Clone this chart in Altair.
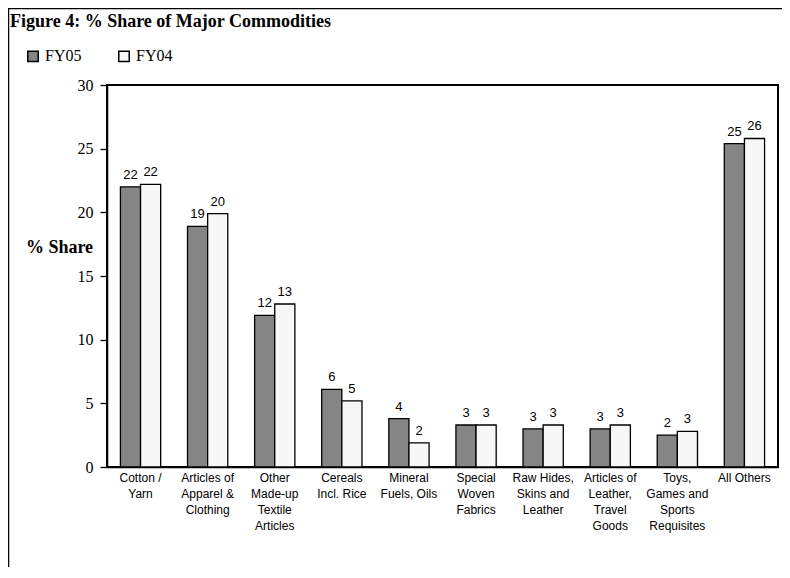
import altair as alt
import pandas as pd

categories = [
    "Cotton /|Yarn",
    "Articles of|Apparel &|Clothing",
    "Other|Made-up|Textile|Articles",
    "Cereals|Incl. Rice",
    "Mineral|Fuels, Oils",
    "Special|Woven|Fabrics",
    "Raw Hides,|Skins and|Leather",
    "Articles of|Leather,|Travel|Goods",
    "Toys,|Games and|Sports|Requisites",
    "All Others",
]
fy05 = [22.0, 18.9, 11.9, 6.1, 3.8, 3.3, 3.0, 3.0, 2.5, 25.4]
fy04 = [22.2, 19.9, 12.8, 5.2, 1.9, 3.3, 3.3, 3.3, 2.8, 25.8]
series = ["FY05", "FY04"]
y_ticks = [0, 5, 10, 15, 20, 25, 30]

rows = []
for c, a, b in zip(categories, fy05, fy04):
    rows.append({"cat": c, "series": "FY05", "value": a, "label": str(round(a))})
    rows.append({"cat": c, "series": "FY04", "value": b, "label": str(round(b))})
df = pd.DataFrame(rows)

W, H = 671, 382
serif = "Liberation Serif"
sans = "Liberation Sans"

x_enc = alt.X(
    "cat:N",
    sort=categories,
    scale=alt.Scale(paddingInner=0.4, paddingOuter=0.2),
    axis=alt.Axis(
        title=None,
        labelAngle=0,
        labelExpr="split(datum.label, '|')",
        labelFont=sans,
        labelFontSize=12,
        labelColor="black",
        labelLineHeight=16,
        labelBaseline="top",
        labelPadding=5,
        ticks=False,
        domainColor="black",
        domainWidth=1.5,
        labelLimit=200,
    ),
)
xoff = alt.XOffset("series:N", sort=series, scale=alt.Scale(paddingInner=0, paddingOuter=0))

bars = alt.Chart(df).mark_bar(stroke="black", strokeWidth=1.3).encode(
    x=x_enc,
    xOffset=xoff,
    y=alt.Y(
        "value:Q",
        scale=alt.Scale(domain=[0, 30], nice=False),
        axis=alt.Axis(
            values=y_ticks,
            title="% Share",
            titleAngle=0,
            titleFont=serif,
            titleFontSize=18,
            titleFontWeight="bold",
            titleColor="black",
            titleAlign="center",
            titleBaseline="middle",
            titleX=-48,
            titleY=162,
            labelFont=serif,
            labelFontSize=16,
            labelColor="black",
            labelPadding=7,
            tickSize=7,
            tickColor="black",
            tickWidth=1.3,
            domainColor="black",
            domainWidth=1.5,
            grid=False,
        ),
    ),
    color=alt.Color(
        "series:N",
        sort=series,
        scale=alt.Scale(domain=series, range=["#858585", "#f7f7f7"]),
        legend=alt.Legend(
            title=None,
            orient="none",
            legendX=-82,
            legendY=-37,
            direction="horizontal",
            symbolType="square",
            symbolSize=110,
            symbolStrokeColor="black",
            symbolStrokeWidth=1.5,
            labelFont=serif,
            labelFontSize=16,
            labelColor="black",
            labelOffset=4,
            columnPadding=33,
        ),
    ),
)

labels = alt.Chart(df).mark_text(
    baseline="bottom", dy=-5, font=sans, fontSize=13, color="black"
).encode(x=x_enc, xOffset=xoff, y="value:Q", text="label:N")

frame_df = pd.DataFrame({"k": [0]})
left_border = alt.Chart(frame_df).mark_rule(color="black", strokeWidth=1.5).encode(
    x=alt.value(-98.5), y=alt.value(-77), y2=alt.value(H + 110)
)
top_border = alt.Chart(frame_df).mark_rule(color="black", strokeWidth=1.5).encode(
    x=alt.value(-98.5), x2=alt.value(W + 10), y=alt.value(-76.5)
)

chart = (
    alt.layer(bars, labels, left_border, top_border)
    .properties(
        width=W,
        height=H,
        title=alt.TitleParams(
            "Figure 4: % Share of Major Commodities",
            anchor="start",
            frame="group",
            font=serif,
            fontSize=18,
            fontWeight="bold",
            color="black",
            dx=-97,
            dy=38,
            offset=0,
            baseline="alphabetic",
        ),
        view=alt.ViewBackground(stroke="black", strokeWidth=2),
        autosize=alt.AutoSizeParams(type="none"),
        padding={"left": 99, "top": 77, "right": 4, "bottom": 100},
    )
    .configure(
        background="white",
        view=alt.ViewConfig(stroke="black", strokeWidth=2),
    )
)

chart.save("out.html", embed_options={"renderer": "svg", "actions": False})
